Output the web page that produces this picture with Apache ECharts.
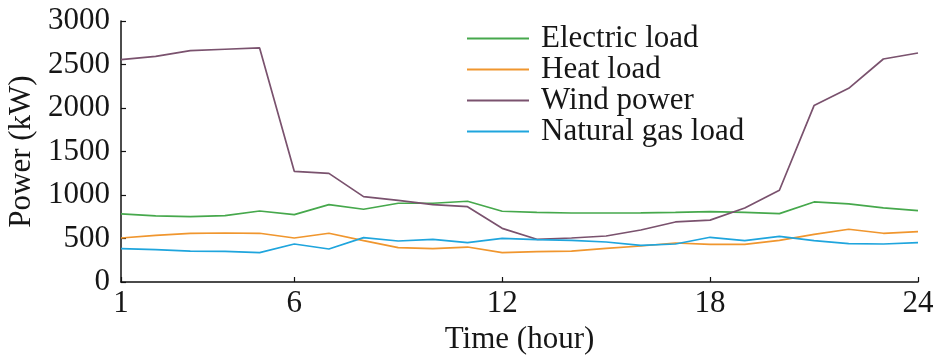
<!DOCTYPE html>
<html>
<head>
<meta charset="utf-8">
<script src="https://cdn.jsdelivr.net/npm/echarts@6/dist/echarts.min.js"></script>
<style>html,body{margin:0;padding:0;background:#fff;}#c{width:935px;height:362px;}</style>
</head>
<body>
<div id="c"></div>
<script>
const hours = ['1','2','3','4','5','6','7','8','9','10','11','12','13','14','15','16','17','18','19','20','21','22','23','24'];
const tickHours = ['1','6','12','18','24'];
const electricLoad = [782,759,752,763,816,775,889,836,905,905,928,813,801,793,793,795,801,809,801,786,920,897,851,821];
const heatLoad = [506,537,560,563,560,506,560,476,395,384,402,338,349,356,387,414,448,433,433,479,548,606,560,579];
const windPower = [2556,2594,2660,2675,2690,1272,1249,981,939,889,866,617,491,506,529,598,690,711,851,1054,2028,2226,2563,2632];
const gasLoad = [384,372,356,353,338,437,379,510,471,491,453,502,487,479,460,422,437,514,476,525,476,441,437,453];
const seriesNames = ['Electric load','Heat load','Wind power','Natural gas load'];
const seriesColors = ['#46a84c','#f0962e','#7a526e','#1fa5dd'];
const yTicks = {min:0, max:3000, interval:500};

const FONT = 'Liberation Serif';
const FS = 31;
const TXT = '#161616';
const showTick = (i, v) => tickHours.indexOf(v) >= 0;
const chart = echarts.init(document.getElementById('c'), null, {renderer:'canvas'});
const dataSets = [electricLoad, heatLoad, windPower, gasLoad];
chart.setOption({
  animation:false,
  grid:{left:121, right:17, top:21, bottom:80, containLabel:false, outerBoundsMode:'none'},
  legend:{
    orient:'vertical', left:467, top:23, padding:0, itemGap:0, itemWidth:62, itemHeight:2, icon:'rect',
    textStyle:{fontFamily:FONT, fontSize:FS, color:TXT, lineHeight:31, padding:[0,0,0,7]},
    data:seriesNames
  },
  xAxis:{
    type:'category', data:hours, boundaryGap:false,
    name:'Time (hour)', nameLocation:'middle', nameGap:41,
    nameTextStyle:{fontFamily:FONT, fontSize:FS, color:TXT},
    axisLine:{lineStyle:{color:'#111', width:1.5}},
    axisTick:{inside:true, length:5, interval:showTick, lineStyle:{color:'#111', width:1.2}},
    axisLabel:{interval:showTick, fontFamily:FONT, fontSize:FS, color:TXT, margin:6},
    splitLine:{show:false}
  },
  yAxis:{
    type:'value', min:yTicks.min, max:yTicks.max, interval:yTicks.interval,
    name:'Power (kW)', nameLocation:'middle', nameGap:84,
    nameTextStyle:{fontFamily:FONT, fontSize:FS, color:TXT},
    axisLine:{show:true, lineStyle:{color:'#111', width:1.5}},
    axisTick:{show:true, inside:true, length:5, lineStyle:{color:'#111', width:1.2}},
    axisLabel:{fontFamily:FONT, fontSize:FS, color:TXT, margin:11, formatter:(v) => String(v)},
    splitLine:{show:false}
  },
  series: seriesNames.map((n, i) => ({
    name:n, type:'line', data:dataSets[i], symbol:'none', showSymbol:false,
    lineStyle:{color:seriesColors[i], width:1.7}, itemStyle:{color:seriesColors[i]}
  }))
});
</script>
</body>
</html>
